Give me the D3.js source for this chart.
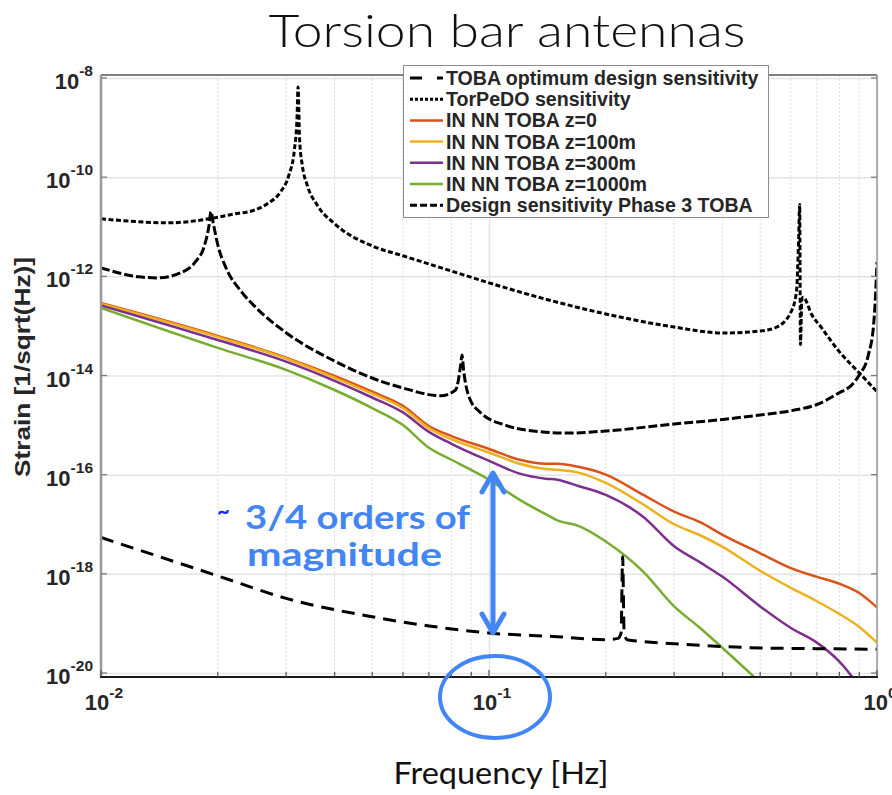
<!DOCTYPE html>
<html>
<head>
<meta charset="utf-8">
<script src="https://cdn.jsdelivr.net/npm/d3@7"></script>
<style>
  body { margin: 0; background: #fff; }
  .tick-label { font-family: "Liberation Sans", Arial, sans-serif; font-weight: bold; fill: #262626; }
  .legend-text { font-family: "Liberation Sans", Arial, sans-serif; font-weight: bold; fill: #262626; font-size: 19.6px; }
</style>
</head>
<body>
<div id="chart"></div>
<script>
// ---- data ----
var xTicks = [0.01, 0.1, 1]
var xTickExp = ['-2', '-1', '0']
var yTicks = [1e-20, 1e-18, 1e-16, 1e-14, 1e-12, 1e-10, 1e-8]
var yTickExp = ['-20', '-18', '-16', '-14', '-12', '-10', '-8']

// IN NN TOBA curves share one frequency list (shorter series stop when they leave the plot)
var freqIN = [0.01, 0.02, 0.03, 0.04, 0.05, 0.06, 0.07, 0.08, 0.1, 0.12, 0.14, 0.15, 0.17, 0.2, 0.25, 0.3, 0.35, 0.4, 0.5, 0.6, 0.7, 0.8, 0.9, 1.0]
var strainZ0 = [2.9e-13, 6.3e-14, 2.3e-14, 9.8e-15, 4.7e-15, 2.45e-15, 9.6e-16, 6.0e-16, 3.3e-16, 2.0e-16, 1.66e-16, 1.66e-16, 1.44e-16, 1.0e-16, 3.9e-17, 1.8e-17, 1.1e-17, 6.1e-18, 2.6e-18, 1.3e-18, 8.7e-19, 6.3e-19, 4.1e-19, 2.1e-19]
var strainZ100 = [2.8e-13, 6.0e-14, 2.2e-14, 9.0e-15, 4.3e-15, 2.2e-15, 8.7e-16, 5.2e-16, 2.8e-16, 1.66e-16, 1.3e-16, 1.26e-16, 1.1e-16, 6.8e-17, 2.5e-17, 1.0e-17, 6.0e-18, 3.5e-18, 1.15e-18, 5.2e-19, 2.8e-19, 1.55e-19, 8.5e-20, 4.1e-20]
var strainZ300 = [2.6e-13, 5.2e-14, 1.9e-14, 7.8e-15, 3.6e-15, 1.8e-15, 7.3e-16, 4.2e-16, 1.9e-16, 1.05e-16, 8.3e-17, 7.9e-17, 5.9e-17, 3.9e-17, 1.4e-17, 3.6e-18, 1.7e-18, 8.7e-19, 2.2e-19, 8.1e-20, 4.1e-20, 1.7e-20, 5.5e-21]
var strainZ1000 = [2.3e-13, 3.6e-14, 1.3e-14, 5.1e-15, 2.2e-15, 1.0e-15, 3.5e-16, 2.0e-16, 7.9e-17, 3.1e-17, 1.6e-17, 1.2e-17, 9.3e-18, 4.5e-18, 1.1e-18, 2.2e-19, 8.1e-20, 3.2e-20, 6.4e-21]

var freqTorpedo = [0.01, 0.0125, 0.015, 0.019, 0.022, 0.025, 0.027, 0.029, 0.0305, 0.0315, 0.032, 0.0322, 0.0325, 0.033, 0.034, 0.036, 0.04, 0.05, 0.06, 0.08, 0.1, 0.15, 0.2, 0.3, 0.4, 0.5, 0.55, 0.6, 0.62, 0.628, 0.632, 0.635, 0.64, 0.645, 0.68, 0.72, 0.8, 0.9, 1.0]
var strainTorpedo = [1.45e-11, 1.26e-11, 1.2e-11, 1.45e-11, 1.8e-11, 2.2e-11, 3.0e-11, 5.0e-11, 1.1e-10, 3.5e-10, 1.5e-9, 6.6e-9, 5.6e-10, 1.8e-10, 6.9e-11, 2.8e-11, 1.15e-11, 4.1e-12, 2.6e-12, 1.28e-12, 7.4e-13, 3.0e-13, 1.74e-13, 9.5e-14, 7.2e-14, 7.9e-14, 9.4e-14, 1.9e-13, 4.9e-13, 5.4e-12, 2.8e-11, 4.2e-14, 3.3e-13, 3.8e-13, 1.65e-13, 9.1e-14, 3.0e-14, 1.13e-14, 4.7e-15]

var freqPhase3 = [0.01, 0.0125, 0.014, 0.016, 0.0175, 0.0185, 0.019, 0.0192, 0.0195, 0.02, 0.021, 0.023, 0.025, 0.03, 0.04, 0.05, 0.06, 0.075, 0.082, 0.0845, 0.0852, 0.086, 0.089, 0.095, 0.11, 0.13, 0.16, 0.2, 0.3, 0.4, 0.5, 0.6, 0.7, 0.8, 0.86, 0.9, 0.95, 0.98, 0.99, 1.0]
var strainPhase3 = [1.48e-12, 9.8e-13, 9.3e-13, 1.17e-12, 1.95e-12, 4.3e-12, 1.1e-11, 2.0e-11, 1.1e-11, 4.3e-12, 1.48e-12, 4.9e-13, 2.4e-13, 7.3e-14, 1.95e-14, 8.9e-15, 5.6e-15, 3.9e-15, 5.1e-15, 1.6e-14, 2.6e-14, 1.3e-14, 3.55e-15, 1.8e-15, 1.0e-15, 7.6e-16, 6.9e-16, 7.6e-16, 1.05e-15, 1.3e-15, 1.6e-15, 1.95e-15, 2.6e-15, 4.5e-15, 6.4e-15, 1.02e-14, 2.6e-14, 1.05e-13, 3.3e-13, 1.95e-12]

var freqOptimum = [0.01, 0.02, 0.03, 0.05, 0.07, 0.1, 0.15, 0.2, 0.215, 0.219, 0.221, 0.223, 0.227, 0.25, 0.3, 0.5, 0.7, 1.0]
var strainOptimum = [5.4e-18, 9.1e-19, 3.2e-19, 1.36e-19, 8.9e-20, 6.4e-20, 5.4e-20, 4.7e-20, 5.0e-20, 6.4e-20, 2.2e-18, 6.4e-20, 4.7e-20, 4.3e-20, 3.9e-20, 3.2e-20, 3.1e-20, 3.0e-20]

var legendLabels = ['TOBA optimum design sensitivity', 'TorPeDO sensitivity', 'IN NN TOBA z=0', 'IN NN TOBA z=100m', 'IN NN TOBA z=300m', 'IN NN TOBA z=1000m', 'Design sensitivity Phase 3 TOBA']

// ---- series styles (same order as legend) ----
var series = [
  { f: freqOptimum, s: strainOptimum, color: '#000', width: 3, dash: '13,8', legendDash: '12,15' },
  { f: freqTorpedo, s: strainTorpedo, color: '#000', width: 3, dash: '5,2.5', legendDash: '3,2' },
  { f: freqIN, s: strainZ0, color: '#D95319', width: 2.5, dash: null },
  { f: freqIN, s: strainZ100, color: '#EDB120', width: 2.5, dash: null },
  { f: freqIN, s: strainZ300, color: '#7E2F8E', width: 2.5, dash: null },
  { f: freqIN, s: strainZ1000, color: '#77AC30', width: 2.5, dash: null },
  { f: freqPhase3, s: strainPhase3, color: '#000', width: 3, dash: '9,3', legendDash: '7,3' }
]

var width = 892
var height = 795
var plot = { left: 101, right: 877, top: 75, bottom: 677 }

var svg = d3.select('#chart')
  .append('svg')
  .attr('width', width)
  .attr('height', height)

var xScale = d3.scaleLog()
  .domain([0.01, 1])
  .range([plot.left, plot.right])

var yScale = d3.scaleLog()
  .domain([1e-20, 1e-8])
  .range([673, 78])

// minor x positions 2..9 per decade
var xMinor = []
xTicks.slice(0, -1).forEach(function(t) {
  for (var k = 2; k < 10; k++) xMinor.push(t * k)
})

// Render grid
svg.append('g')
  .attr('class', 'grid-minor')
  .selectAll('line')
  .data(xMinor)
  .enter()
  .append('line')
  .attr('x1', d => xScale(d))
  .attr('x2', d => xScale(d))
  .attr('y1', plot.top)
  .attr('y2', plot.bottom)
  .attr('stroke', '#d4d4d4')
  .attr('stroke-width', 1)
  .attr('stroke-dasharray', '1.5,2.5')

svg.append('g')
  .attr('class', 'grid')
  .call(d3.axisBottom(xScale)
    .tickValues(xTicks)
    .tickSize(-(plot.bottom - plot.top))
    .tickFormat(''))
  .attr('transform', `translate(0,${plot.bottom})`)
  .call(g => g.select('.domain').remove())
  .selectAll('line')
  .attr('stroke', '#e3e3e3')
  .attr('stroke-width', 1.5)

svg.append('g')
  .attr('class', 'grid')
  .attr('transform', `translate(${plot.left},0)`)
  .call(d3.axisLeft(yScale)
    .tickValues(yTicks)
    .tickSize(-(plot.right - plot.left))
    .tickFormat(''))
  .call(g => g.select('.domain').remove())
  .selectAll('line')
  .attr('stroke', '#e3e3e3')
  .attr('stroke-width', 1.5)

// clip for curves
svg.append('clipPath')
  .attr('id', 'plot-clip')
  .append('rect')
  .attr('x', plot.left)
  .attr('y', plot.top)
  .attr('width', plot.right - plot.left)
  .attr('height', plot.bottom - plot.top)

var line = d3.line()
  .x(d => xScale(d[0]))
  .y(d => yScale(d[1]))
  .curve(d3.curveMonotoneX)

var curves = svg.append('g').attr('clip-path', 'url(#plot-clip)')

// draw coloured curves first, black ones on top
var drawOrder = [2, 3, 4, 5, 0, 6, 1]
drawOrder.forEach(function(i) {
  var sr = series[i]
  var pts = sr.s.map((v, j) => [sr.f[j], v])
  curves.append('path')
    .datum(pts)
    .attr('d', line)
    .attr('fill', 'none')
    .attr('stroke', sr.color)
    .attr('stroke-width', sr.width)
    .attr('stroke-dasharray', sr.dash)
    .attr('stroke-linejoin', 'round')
})

// frame + tick marks
var frame = svg.append('g').attr('class', 'frame')
frame.append('line').attr('x1', plot.left).attr('x2', plot.right).attr('y1', plot.top).attr('y2', plot.top)
  .attr('stroke', '#555').attr('stroke-width', 1.5)
frame.append('line').attr('x1', plot.right).attr('x2', plot.right).attr('y1', plot.top).attr('y2', plot.bottom)
  .attr('stroke', '#9a9a9a').attr('stroke-width', 1.5)
frame.append('line').attr('x1', plot.left).attr('x2', plot.left).attr('y1', plot.top).attr('y2', plot.bottom)
  .attr('stroke', '#9a9a9a').attr('stroke-width', 2.5)
frame.append('line').attr('x1', plot.left - 1).attr('x2', plot.right + 1).attr('y1', plot.bottom).attr('y2', plot.bottom)
  .attr('stroke', '#1a1a1a').attr('stroke-width', 2)

frame.selectAll('.ytick-l')
  .data(yTicks)
  .enter()
  .append('line')
  .attr('x1', plot.left)
  .attr('x2', plot.left + 6)
  .attr('y1', d => yScale(d))
  .attr('y2', d => yScale(d))
  .attr('stroke', '#777')
  .attr('stroke-width', 1.2)

frame.selectAll('.ytick-r')
  .data(yTicks)
  .enter()
  .append('line')
  .attr('x1', plot.right)
  .attr('x2', plot.right - 6)
  .attr('y1', d => yScale(d))
  .attr('y2', d => yScale(d))
  .attr('stroke', '#777')
  .attr('stroke-width', 1.2)

frame.selectAll('.xtick')
  .data(xTicks.concat(xMinor))
  .enter()
  .append('line')
  .attr('x1', d => xScale(d))
  .attr('x2', d => xScale(d))
  .attr('y1', plot.bottom)
  .attr('y2', d => plot.bottom - (xTicks.includes(d) ? 7 : 5))
  .attr('stroke', '#555')
  .attr('stroke-width', 1.2)

// tick labels 10^n
var yLab = svg.append('g')
  .selectAll('text')
  .data(yTicks)
  .enter()
  .append('text')
  .attr('class', 'tick-label')
  .attr('text-anchor', 'end')
  .attr('x', 93)
  .attr('y', d => yScale(d) + 11)
  .style('font-size', '22px')
yLab.append('tspan').text('10')
yLab.append('tspan')
  .attr('dy', -13)
  .style('font-size', '15.5px')
  .text((d, i) => yTickExp[i])

var xLab = svg.append('g')
  .selectAll('text')
  .data(xTicks)
  .enter()
  .append('text')
  .attr('class', 'tick-label')
  .attr('text-anchor', 'middle')
  .attr('x', d => xScale(d) + 3)
  .attr('y', 710)
  .style('font-size', '22px')
xLab.append('tspan').text('10')
xLab.append('tspan')
  .attr('dy', -12)
  .style('font-size', '15.5px')
  .text((d, i) => xTickExp[i])

// axis titles
svg.append('text')
  .attr('transform', 'translate(30,367) rotate(-90)')
  .attr('text-anchor', 'middle')
  .style('font-family', '"Liberation Sans", Arial, sans-serif')
  .style('font-weight', 'bold')
  .style('font-size', '22px')
  .style('fill', '#262626')
  .attr('textLength', 220)
  .attr('lengthAdjust', 'spacingAndGlyphs')
  .text('Strain [1/sqrt(Hz)]')

svg.append('text')
  .attr('x', 501)
  .attr('y', 784)
  .attr('text-anchor', 'middle')
  .style('font-family', 'Lato, "Open Sans", sans-serif')
  .style('font-size', '31px')
  .style('fill', '#111')
  .attr('textLength', 215)
  .attr('lengthAdjust', 'spacingAndGlyphs')
  .text('Frequency [Hz]')

svg.append('text')
  .attr('x', 507)
  .attr('y', 47)
  .attr('text-anchor', 'middle')
  .style('font-family', 'Lato, "Open Sans", sans-serif')
  .style('font-weight', 300)
  .style('font-size', '45px')
  .style('fill', '#111')
  .attr('textLength', 477)
  .attr('lengthAdjust', 'spacingAndGlyphs')
  .text('Torsion bar antennas')

// legend
var legend = svg.append('g').attr('class', 'legend')
legend.append('rect')
  .attr('x', 403.5)
  .attr('y', 65.5)
  .attr('width', 365)
  .attr('height', 152)
  .attr('fill', '#fff')
  .attr('stroke', '#8c8c8c')
  .attr('stroke-width', 1)

var rows = legend.selectAll('.legend-entry')
  .data(legendLabels)
  .enter()
  .append('g')
  .attr('class', 'legend-entry')
  .attr('transform', (d, i) => `translate(0,${78 + i * 21.2})`)

rows.append('line')
  .attr('x1', 410)
  .attr('x2', 443)
  .attr('y1', 0)
  .attr('y2', 0)
  .attr('stroke', (d, i) => series[i].color)
  .attr('stroke-width', (d, i) => series[i].dash ? 3 : 2.5)
  .attr('stroke-dasharray', (d, i) => series[i].legendDash || null)

rows.append('text')
  .attr('class', 'legend-text')
  .attr('x', 446)
  .attr('y', 7)
  .text(d => d)

// annotation: arrow, text and circle
var blue = '#4285f4'
var arrowX = xScale(0.1) + 4
var arrowTop = 473
var arrowBottom = 633
var ann = svg.append('g').attr('class', 'annotation')
ann.append('line')
  .attr('x1', arrowX).attr('x2', arrowX)
  .attr('y1', arrowTop + 3).attr('y2', arrowBottom - 3)
  .attr('stroke', blue).attr('stroke-width', 5)
ann.append('path')
  .attr('d', `M${arrowX - 11},${arrowTop + 19}L${arrowX},${arrowTop}L${arrowX + 11},${arrowTop + 19}`)
  .attr('fill', 'none').attr('stroke', blue).attr('stroke-width', 5)
  .attr('stroke-linecap', 'round').attr('stroke-linejoin', 'round')
ann.append('path')
  .attr('d', `M${arrowX - 11},${arrowBottom - 19}L${arrowX},${arrowBottom}L${arrowX + 11},${arrowBottom - 19}`)
  .attr('fill', 'none').attr('stroke', blue).attr('stroke-width', 5)
  .attr('stroke-linecap', 'round').attr('stroke-linejoin', 'round')

ann.append('text')
  .attr('x', 217).attr('y', 519)
  .style('font-family', 'Lato, sans-serif').style('font-weight', 'bold')
  .style('font-size', '22px').style('fill', '#1a2ee8')
  .text('~')
ann.append('text')
  .attr('x', 245).attr('y', 529)
  .style('font-family', 'Lato, sans-serif').style('font-weight', 'bold')
  .style('font-size', '32px').style('fill', blue)
  .attr('textLength', 225)
  .attr('lengthAdjust', 'spacingAndGlyphs')
  .text('3/4 orders of')
ann.append('text')
  .attr('x', 247).attr('y', 566)
  .style('font-family', 'Lato, sans-serif').style('font-weight', 'bold')
  .style('font-size', '32px').style('fill', blue)
  .attr('textLength', 195)
  .attr('lengthAdjust', 'spacingAndGlyphs')
  .text('magnitude')

ann.append('ellipse')
  .attr('cx', 495).attr('cy', 697)
  .attr('rx', 55).attr('ry', 41)
  .attr('fill', 'none')
  .attr('stroke', blue)
  .attr('stroke-width', 4)
</script>
</body>
</html>
